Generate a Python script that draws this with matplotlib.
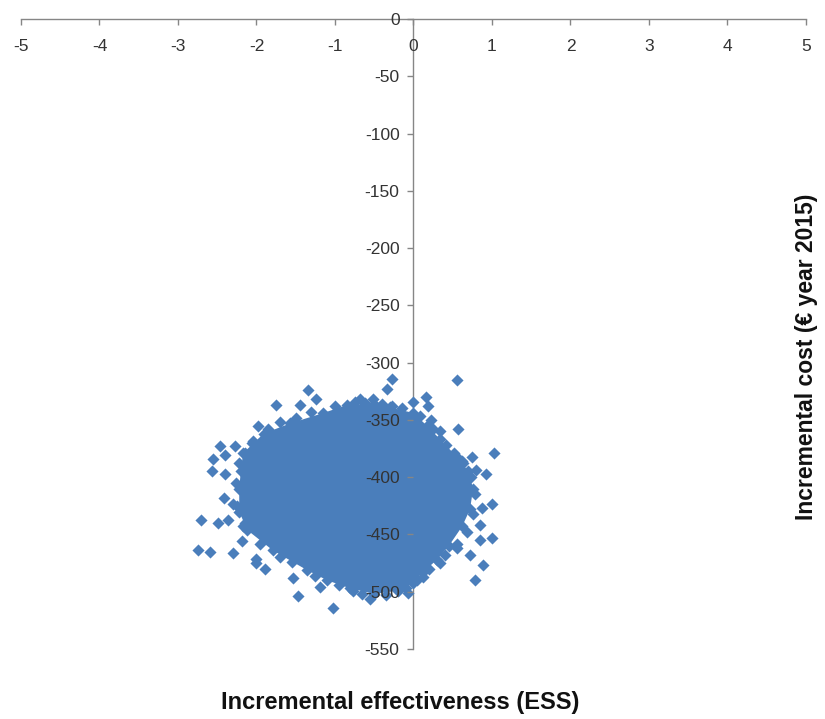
import matplotlib
matplotlib.use("Agg")
import matplotlib.pyplot as plt

plt.rcParams["font.family"] = ["Liberation Sans", "DejaVu Sans"]
plt.rcParams["axes.unicode_minus"] = False

# dense core of the simulation cloud (outline)
core_x = [-2.17, -1.91, -1.57, -1.15, -0.85, -0.5, -0.3, 0.0, 0.17, 0.34, 0.55,
          0.7, 0.76, 0.72, 0.62, 0.45, 0.3, 0.12, 0.0, -0.2, -0.5, -0.81, -1.1,
          -1.36, -1.79, -2.12, -2.22, -2.22, -2.2]
core_y = [-379, -362, -353, -344, -337, -336, -339, -344, -355, -367, -382,
          -395, -410, -428, -443, -460, -472, -483, -492, -499, -502, -497, -490,
          -481, -464, -446, -430, -410, -395]

# simulations sitting on the ragged rim of the core
rim_x = [-1.85, -1.7, -1.5, -1.3, -1.0, -0.75, -0.62, -0.4, -0.15, 0.08, 0.25,
         0.42, 0.62, 0.73, 0.78, 0.76, 0.68, 0.55, 0.4, 0.2, 0.05, -0.1, -0.35,
         -0.65, -0.95, -1.25, -1.55, -1.7, -1.95, -2.15, -2.25, -2.26, -2.22, -2.05]
rim_y = [-358, -352, -348, -343, -338, -334, -335, -336, -340, -347, -358,
         -372, -386, -400, -415, -432, -448, -458, -468, -480, -490, -497, -503,
         -502, -494, -486, -474, -470, -458, -440, -425, -405, -388, -368]

# loose simulations around the edge
edge_x = [-1.34, -1.24, -1.75, -1.44, -1.98, -2.46, -2.27, -2.55, -2.40, -2.06,
          -2.15, -2.57, -2.40, -2.42, -2.30, -2.71, -2.49, -2.36, -2.74, -2.59,
          -2.30, -2.19, -2.0, -1.89, -2.0, -1.53, -1.47, -1.19, -1.02, -2.17,
          0.93, 0.80, 1.0, 0.87, 0.85, 1.0, 0.85, 0.72, 0.89, 0.78, 0.55, 0.34,
          0.125, -0.066, -0.55, -0.77, -0.28, 0.56, -0.34, 0.16, 0.18, 0.0,
          -0.68, -0.51, -0.28, 0.22, 0.57, 1.02, 0.74, 0.63, 0.51, 0.34]
edge_y = [-324, -332, -337, -337, -355, -373, -373, -384, -381, -370,
          -379, -395, -397, -418, -423, -437, -440, -437, -464, -465,
          -466, -456, -471, -480, -475, -488, -504, -496, -514, -443,
          -397, -394, -423, -427, -442, -453, -455, -468, -477, -490, -462, -475,
          -487, -501, -506, -499, -314, -315, -323, -330, -338, -334,
          -332, -332, -338, -350, -358, -379, -382, -388, -379, -360]

x_ticks = [-5, -4, -3, -2, -1, 0, 1, 2, 3, 4, 5]
y_ticks = [0, -50, -100, -150, -200, -250, -300, -350, -400, -450, -500, -550]

blue = "#4A7EBB"
grey = "#868686"

fig = plt.figure(figsize=(8.25, 7.19), dpi=100)
ax = fig.add_axes([0.02545, 0.09736, 0.9515, 0.8762])

ax.fill(core_x, core_y, color=blue, zorder=3, lw=0)
ax.scatter(core_x + rim_x + edge_x, core_y + rim_y + edge_y, marker="D", s=38,
           color=blue, linewidths=0, zorder=3)

ax.set_xlim(-5, 5)
ax.set_ylim(-550, 0)
ax.set_xticks(x_ticks)
ax.set_yticks(y_ticks)

for side in ["top", "right"]:
    ax.spines[side].set_visible(False)
ax.spines["bottom"].set_position(("data", 0))
ax.spines["left"].set_position(("data", 0))
for side in ["bottom", "left"]:
    ax.spines[side].set_color(grey)
    ax.spines[side].set_linewidth(1.0)
    ax.spines[side].set_zorder(1)
ax.yaxis.set_zorder(5)

ax.tick_params(axis="x", direction="out", length=4, width=1, color=grey,
               labelsize=12.5, labelcolor="#333333", pad=10.5)
ax.tick_params(axis="y", direction="out", length=4, width=1, color=grey,
               labelsize=12.5, labelcolor="#333333", pad=6)

fig.text(400 / 825, 1 - 703 / 719, "Incremental effectiveness (ESS)",
         ha="center", va="center", fontsize=17, fontweight="bold", color="#111111")
fig.text(807 / 825, 1 - 357 / 719, "Incremental cost (\u20ac year 2015)",
         ha="center", va="center", rotation=90, fontsize=16.5, fontweight="bold",
         color="#111111")

fig.savefig("out.png", dpi=100)
